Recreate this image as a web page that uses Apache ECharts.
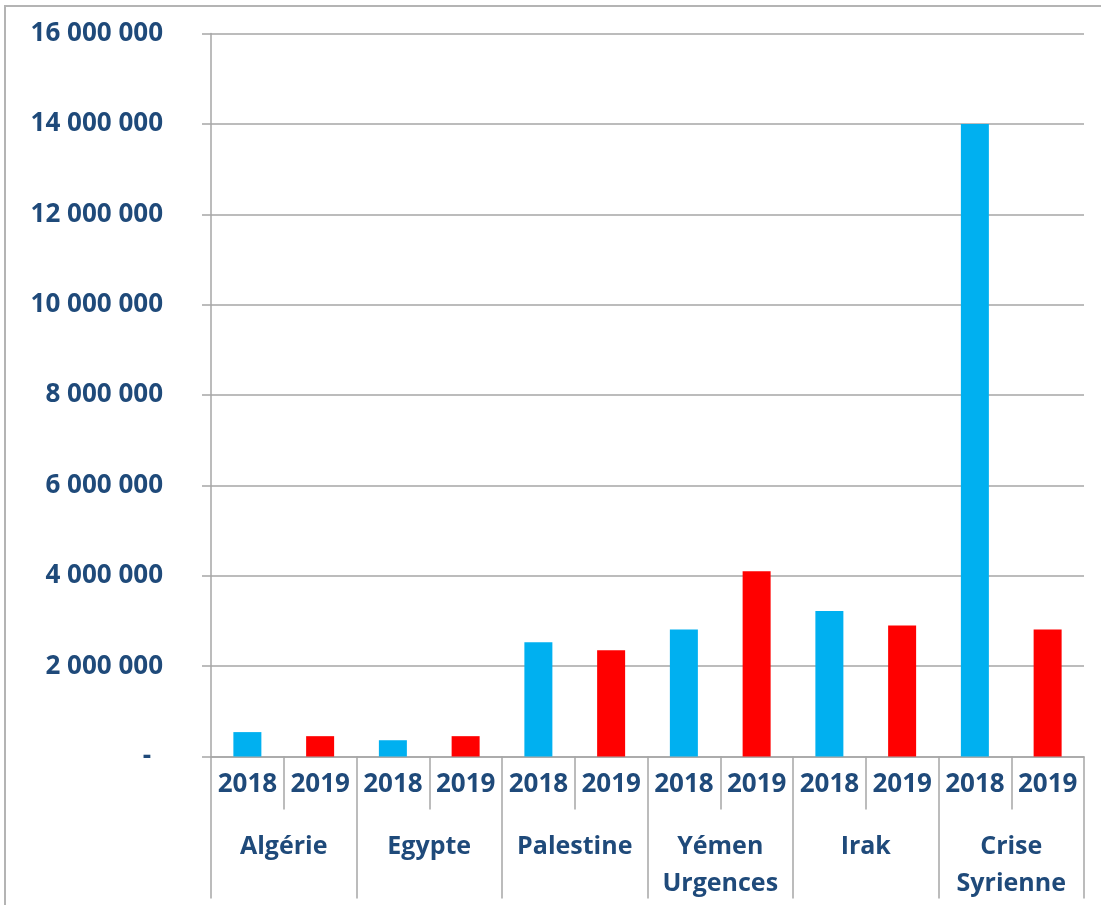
<!DOCTYPE html>
<html>
<head>
<meta charset="utf-8">
<script src="https://cdn.jsdelivr.net/npm/echarts@6/dist/echarts.min.js"></script>
<style>
  html, body { margin: 0; padding: 0; background: #ffffff; }
  #chart { width: 1101px; height: 905px; }
</style>
</head>
<body>
<div id="chart"></div>
<script>
// Amounts per programme, 2018 vs 2019
const countries = ['Algérie', 'Egypte', 'Palestine', 'Yémen\nUrgences', 'Irak', 'Crise\nSyrienne'];
const years = ['2018', '2019'];
const values2018 = [540000, 360000, 2530000, 2810000, 3220000, 14000000];
const values2019 = [450000, 450000, 2350000, 4100000, 2900000, 2810000];
const yTicks = { min: 0, max: 16000000, interval: 2000000 };

const colors = { '2018': '#00B0F0', '2019': '#FF0000' };
const textColor = '#1F4A7A';
const lineColor = '#A6A6A6';
const font = 'Open Sans';

// one slot per (country, year) pair
const yearLabels = [];
const barData = [];
countries.forEach((c, i) => {
  yearLabels.push(years[0], years[1]);
  barData.push({ value: values2018[i], itemStyle: { color: colors[years[0]] } });
  barData.push({ value: values2019[i], itemStyle: { color: colors[years[1]] } });
});

function fmt(v) {
  if (v === 0) return '{z|-}';
  return String(v).replace(/\B(?=(\d{3})+(?!\d))/g, ' ');
}

const chart = echarts.init(document.getElementById('chart'), null, { renderer: 'canvas' });
chart.setOption({
  backgroundColor: '#ffffff',
  animation: false,
  graphic: [{
    type: 'rect',
    shape: { x: 5, y: 6, width: 1300, height: 1200 },
    style: { fill: 'none', stroke: '#B4B4B4', lineWidth: 2 },
    silent: true
  }],
  grid: { left: 211, right: 17, top: 33.5, bottom: 148.5, containLabel: false },
  xAxis: [{
    type: 'category',
    data: yearLabels,
    position: 'bottom',
    axisLine: { show: true, lineStyle: { color: lineColor, width: 1.5 } },
    axisTick: { show: true, interval: 0, length: 53, lineStyle: { color: lineColor, width: 1.5 } },
    axisLabel: {
      interval: 0, margin: 15, color: textColor,
      fontFamily: font, fontWeight: 'bold', fontSize: 26
    }
  }, {
    type: 'category',
    data: countries,
    position: 'bottom',
    axisLine: { show: false },
    axisTick: { show: true, interval: 0, length: 142, lineStyle: { color: lineColor, width: 1.5 } },
    axisLabel: {
      interval: 0, margin: 72, color: textColor, lineHeight: 37,
      fontFamily: font, fontWeight: 'bold', fontSize: 25
    }
  }],
  yAxis: {
    type: 'value',
    min: yTicks.min, max: yTicks.max, interval: yTicks.interval,
    axisLine: { show: true, lineStyle: { color: lineColor, width: 1.5 } },
    axisTick: { show: true, length: 9, lineStyle: { color: lineColor, width: 1.5 } },
    splitLine: { show: true, lineStyle: { color: lineColor, width: 1.5 } },
    axisLabel: {
      margin: 48, color: textColor,
      fontFamily: font, fontWeight: 'bold', fontSize: 26,
      formatter: fmt,
      rich: { z: { color: textColor, fontFamily: font, fontWeight: 'bold', fontSize: 26, padding: [0, 12, 0, 0] } }
    }
  },
  series: [{
    type: 'bar',
    xAxisIndex: 0,
    data: barData,
    barWidth: 28
  }]
});
</script>
</body>
</html>
